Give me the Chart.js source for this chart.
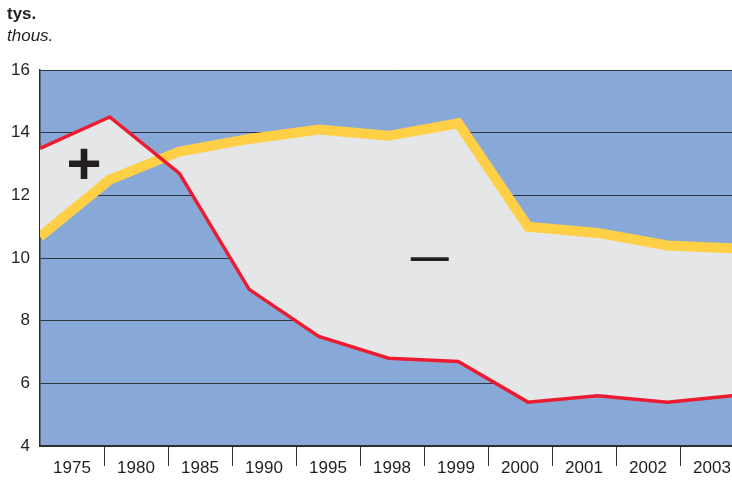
<!DOCTYPE html>
<html>
<head>
<meta charset="utf-8">
<script src="https://cdn.jsdelivr.net/npm/chart.js@4"></script>
<style>
    html, body { margin: 0; padding: 0; background: #fff; overflow: hidden; }
    #wrap { position: relative; width: 744px; height: 480px; }
</style>
</head>
<body>
<div id="wrap"><canvas id="grafico"></canvas></div>
<script>
// categorias y valores
const years = ['1975', '1980', '1985', '1990', '1995', '1998', '1999', '2000', '2001', '2002', '2003'];
const redValues = [13.5, 14.5, 12.7, 9.0, 7.5, 6.8, 6.7, 5.4, 5.6, 5.4, 5.62];
const yellowValues = [10.68, 12.5, 13.4, 13.8, 14.1, 13.9, 14.3, 11.0, 10.8, 10.4, 10.3];
const yMin = 4, yMax = 16, yStep = 2;

const unitLabel = 'tys.';
const unitLabelEn = 'thous.';

function toPoints(values) {
    return values.map(function (v, i) { return { x: i, y: v }; });
}

// fondo azul del area de trazado + textos
const decoraciones = {
    id: 'decoraciones',
    beforeDraw: function (chart) {
        const a = chart.chartArea;
        const ctx = chart.ctx;
        ctx.save();
        ctx.fillStyle = '#88a9d8';
        ctx.fillRect(a.left, a.top, a.right - a.left, a.bottom - a.top);
        ctx.restore();
    },
    afterDraw: function (chart) {
        const ctx = chart.ctx;
        const x2 = chart.scales.x2;
        const y = chart.scales.y;
        ctx.save();
        ctx.fillStyle = '#231f20';
        ctx.textBaseline = 'alphabetic';
        ctx.textAlign = 'left';
        ctx.font = 'bold 17px "Liberation Sans", Arial, sans-serif';
        ctx.fillText(unitLabel, 7, 19);
        ctx.font = 'italic 17px "Liberation Sans", Arial, sans-serif';
        ctx.fillText(unitLabelEn, 7, 41);

        ctx.textAlign = 'center';
        ctx.textBaseline = 'middle';
        ctx.font = 'bold 60px "Liberation Sans", Arial, sans-serif';
        ctx.fillText('+', x2.getPixelForValue(0.63), y.getPixelForValue(13.0) + 3);
        ctx.font = 'bold 38px "Liberation Sans", Arial, sans-serif';
        ctx.fillText('\u2014', x2.getPixelForValue(5.59), y.getPixelForValue(9.94));
        ctx.restore();
    }
};

new Chart(document.getElementById('grafico'), {
    type: 'line',
    data: {
        labels: years,
        datasets: [{
            label: 'red',
            data: toPoints(redValues),
            xAxisID: 'x2',
            borderColor: '#ed1b2f',
            borderWidth: 3.5,
            borderJoinStyle: 'miter',
            pointRadius: 0,
            tension: 0,
            fill: '+1',
            backgroundColor: '#e5e6e8'
        }, {
            label: 'yellow',
            data: toPoints(yellowValues),
            xAxisID: 'x2',
            borderColor: '#ffcf45',
            borderWidth: 10,
            borderJoinStyle: 'miter',
            pointRadius: 0,
            tension: 0,
            fill: false
        }]
    },
    options: {
        responsive: true,
        maintainAspectRatio: false,
        animation: false,
        layout: { padding: { top: 70, left: 0, right: 0, bottom: 0 } },
        plugins: {
            legend: { display: false },
            tooltip: { enabled: false },
            filler: { drawTime: 'beforeDatasetsDraw' }
        },
        scales: {
            x: {
                type: 'category',
                offset: true,
                grid: {
                    offset: true,
                    drawOnChartArea: false,
                    drawTicks: true,
                    tickLength: 20,
                    color: function (c) { return c.index === 0 ? 'rgba(0,0,0,0)' : '#333333'; }
                },
                border: { display: true, color: '#2b2b2b', width: 1.5 },
                ticks: {
                    color: '#231f20',
                    font: { family: '"Liberation Sans", Arial, sans-serif', size: 17 },
                    padding: -8,
                    maxRotation: 0,
                    autoSkip: false
                },
                afterFit: function (s) { s.height = 34; }
            },
            x2: {
                type: 'linear',
                display: false,
                min: 0,
                max: 10.1
            },
            y: {
                min: yMin,
                max: yMax,
                ticks: {
                    stepSize: yStep,
                    color: '#231f20',
                    font: { family: '"Liberation Sans", Arial, sans-serif', size: 17 },
                    padding: 10
                },
                grid: { color: '#2f3440', lineWidth: 1, drawTicks: false },
                border: { display: true, color: '#2b2b2b', width: 1.5 },
                afterFit: function (s) { s.width = 40; }
            }
        }
    },
    plugins: [decoraciones]
});
</script>
</body>
</html>
